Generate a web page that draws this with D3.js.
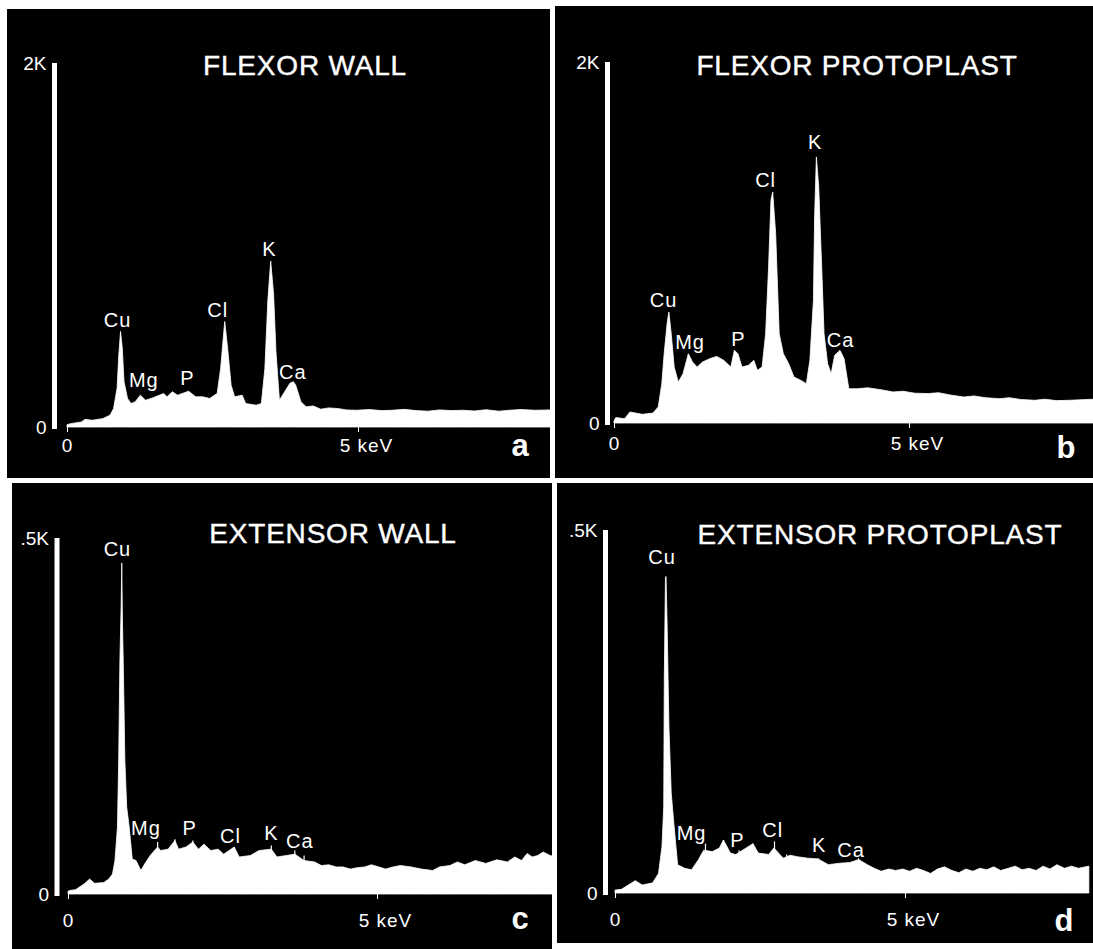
<!DOCTYPE html>
<html>
<head>
<meta charset="utf-8">
<script src="https://cdn.jsdelivr.net/npm/d3@7"></script>
<style>
  body { margin: 0; background: #fff; }
  svg { display: block; }
  text { font-family: "Liberation Sans", Arial, sans-serif; fill: #fff; }
</style>
</head>
<body>
<svg class="spectra" width="1093" height="949"></svg>
<script>
// X-ray spectra: energy in keV, counts
const energyA = [0, 0.06, 0.25, 0.31, 0.43, 0.61, 0.74, 0.80, 0.86, 0.89, 0.92, 0.95, 0.98, 1.04, 1.10, 1.17, 1.26, 1.35, 1.47, 1.66, 1.72, 1.81, 1.90, 2.09, 2.21, 2.33, 2.45, 2.58, 2.64, 2.69, 2.71, 2.76, 2.82, 2.88, 3.01, 3.07, 3.25, 3.34, 3.40, 3.45, 3.50, 3.55, 3.59, 3.65, 3.74, 3.83, 3.89, 3.93, 4.02, 4.11, 4.23, 4.36, 4.5, 4.66, 4.8, 4.97, 5.2, 5.4, 5.58, 5.8, 6.0, 6.2, 6.4, 6.6, 6.81, 7.0, 7.2, 7.42, 7.6, 7.8, 8.04, 8.3, 8.6];
const countsA = [13, 18, 28, 42, 37, 46, 65, 101, 212, 396, 525, 433, 249, 157, 129, 138, 175, 147, 160, 184, 166, 194, 175, 197, 166, 166, 157, 184, 322, 507, 580, 433, 230, 166, 175, 129, 120, 129, 322, 691, 912, 728, 415, 147, 194, 240, 249, 230, 138, 111, 116, 98, 105, 101, 94, 92, 96, 90, 92, 97, 90, 87, 94, 90, 92, 88, 95, 87, 92, 96, 92, 94, 92];

const energyB = [0, 0.03, 0.18, 0.27, 0.48, 0.66, 0.75, 0.81, 0.85, 0.90, 0.93, 0.97, 1.02, 1.09, 1.17, 1.26, 1.33, 1.41, 1.50, 1.62, 1.74, 1.86, 1.98, 2.04, 2.10, 2.17, 2.28, 2.37, 2.43, 2.51, 2.57, 2.62, 2.66, 2.69, 2.74, 2.80, 2.87, 2.96, 3.05, 3.17, 3.26, 3.32, 3.38, 3.40, 3.43, 3.47, 3.52, 3.56, 3.62, 3.68, 3.74, 3.83, 3.90, 3.98, 4.13, 4.3, 4.49, 4.6, 4.73, 4.9, 5.1, 5.33, 5.5, 5.7, 5.93, 6.1, 6.3, 6.53, 6.7, 6.9, 7.13, 7.3, 7.5, 7.73, 8.0, 8.4];
const countsB = [11, 30, 24, 61, 48, 55, 89, 218, 384, 550, 615, 495, 310, 227, 273, 384, 338, 310, 338, 356, 369, 347, 310, 403, 384, 310, 320, 347, 292, 310, 495, 864, 1234, 1280, 1049, 495, 384, 329, 255, 236, 218, 347, 680, 1141, 1474, 1308, 864, 495, 329, 273, 375, 403, 356, 190, 190, 195, 186, 180, 172, 176, 165, 163, 168, 155, 144, 150, 140, 135, 140, 130, 126, 132, 124, 126, 130, 135];

const energyC = [0, 0.03, 0.12, 0.26, 0.35, 0.43, 0.58, 0.66, 0.72, 0.76, 0.80, 0.82, 0.84, 0.86, 0.87, 0.88, 0.90, 0.92, 0.95, 0.99, 1.04, 1.10, 1.18, 1.24, 1.33, 1.45, 1.50, 1.62, 1.73, 1.79, 1.91, 2.02, 2.11, 2.20, 2.31, 2.43, 2.52, 2.69, 2.77, 2.95, 3.09, 3.29, 3.38, 3.53, 3.67, 3.82, 3.99, 4.10, 4.22, 4.34, 4.45, 4.57, 4.68, 4.80, 4.91, 5.03, 5.14, 5.26, 5.38, 5.55, 5.72, 5.90, 6.01, 6.18, 6.30, 6.42, 6.59, 6.76, 6.94, 7.11, 7.23, 7.34, 7.43, 7.51, 7.60, 7.69, 7.80, 7.92];
const countsC = [4, 5, 6, 14, 21, 15, 16, 21, 28, 47, 94, 188, 329, 404, 465, 390, 296, 188, 122, 94, 49, 47, 33, 42, 54, 66, 61, 63, 75, 63, 66, 73, 63, 70, 61, 63, 56, 66, 52, 54, 61, 63, 52, 54, 56, 47, 45, 40, 41, 38, 38, 35, 37, 38, 41, 38, 35, 38, 40, 38, 35, 33, 38, 40, 45, 41, 47, 43, 48, 45, 52, 47, 57, 52, 54, 59, 54, 52];

const energyD = [0, 0.11, 0.29, 0.35, 0.47, 0.65, 0.75, 0.81, 0.84, 0.85, 0.87, 0.88, 0.90, 0.93, 0.97, 1.02, 1.08, 1.20, 1.32, 1.44, 1.53, 1.68, 1.80, 1.87, 1.99, 2.08, 2.20, 2.38, 2.47, 2.65, 2.74, 2.90, 3.02, 3.14, 3.32, 3.50, 3.68, 3.87, 4.05, 4.20, 4.35, 4.47, 4.59, 4.72, 4.84, 4.96, 5.08, 5.20, 5.32, 5.44, 5.56, 5.68, 5.81, 5.93, 6.05, 6.17, 6.29, 6.41, 6.53, 6.65, 6.78, 6.90, 7.02, 7.14, 7.26, 7.38, 7.50, 7.62, 7.75, 7.87, 7.99, 8.17];
const countsD = [4, 5, 14, 17, 11, 14, 27, 64, 119, 297, 434, 436, 365, 228, 137, 91, 39, 34, 32, 46, 59, 57, 62, 73, 55, 53, 59, 68, 55, 53, 62, 48, 52, 50, 48, 47, 39, 41, 42, 46, 39, 34, 30, 33, 31, 33, 30, 34, 31, 27, 33, 36, 31, 28, 33, 30, 34, 32, 36, 31, 34, 37, 32, 34, 31, 37, 33, 39, 34, 37, 34, 37];

// element labels: name, energy and height where the label sits
const elements = ["Cu", "Mg", "P", "Cl", "K", "Ca"];
const labelKevA = [0.87, 1.32, 2.07, 2.59, 3.48, 3.88];
const labelCountA = [590, 258, 267, 645, 977, 304];
const labelKevB = [0.84, 1.29, 2.11, 2.57, 3.41, 3.84];
const labelCountB = [680, 449, 467, 1345, 1557, 458];
const labelKevC = [0.80, 1.26, 1.97, 2.63, 3.29, 3.75];
const labelCountC = [484, 92, 92, 82, 85, 75];
const labelKevD = [0.81, 1.32, 2.11, 2.72, 3.52, 4.07];
const labelCountD = [463, 82, 73, 87, 66, 59];

// thin line markers standing on the spectrum (keV, top count, bottom count)
const markerKevC = [1.45, 1.73, 2.02, 2.69, 3.29, 3.67, 3.82];
const markerTopC = [73, 77, 75, 66, 68, 61, 54];
const markerBottomC = [63, 66, 66, 49, 52, 47, 42];
const markerKevD = [1.56, 1.87, 2.14, 2.38, 2.75, 2.96, 3.50, 4.20];
const markerTopD = [68, 73, 59, 68, 71, 53, 48, 48];
const markerBottomD = [59, 62, 50, 59, 55, 43, 41, 39];

const titles = ["FLEXOR WALL", "FLEXOR PROTOPLAST", "EXTENSOR WALL", "EXTENSOR PROTOPLAST"];
const panelLetters = ["a", "b", "c", "d"];
const fullScale = [2000, 2000, 500, 500];
const fullScaleLabels = ["2K", "2K", ".5K", ".5K"];
const energyTicks = [0, 5];

// panel frames (black boxes) and where 0 / 5 keV and 0 / full scale land
const layout = [
    { x: 7, y: 9, w: 543, h: 469, x0: 67, x5: 358, base: 427, top: 63, barX: 54.5, pad: 13, titleX: 305, titleY: 65, letterX: 520, letterY: 445 },
    { x: 555, y: 6, w: 538, h: 472, x0: 614, x5: 909, base: 423, top: 62, barX: 607.5, pad: 15, titleX: 857, titleY: 65, letterX: 1066, letterY: 447 },
    { x: 12, y: 483, w: 540, h: 466, x0: 68, x5: 377, base: 894, top: 538, barX: 57, pad: 21, titleX: 333, titleY: 533, letterX: 520, letterY: 918 },
    { x: 557, y: 483, w: 536, h: 460, x0: 615, x5: 905, base: 893, top: 530, barX: 605.5, pad: 21, titleX: 880, titleY: 534, letterX: 1064, letterY: 920 }
];

const spectra = [
    { energy: energyA, counts: countsA, labelKev: labelKevA, labelCount: labelCountA, mKev: [], mTop: [], mBottom: [] },
    { energy: energyB, counts: countsB, labelKev: labelKevB, labelCount: labelCountB, mKev: [], mTop: [], mBottom: [] },
    { energy: energyC, counts: countsC, labelKev: labelKevC, labelCount: labelCountC, mKev: markerKevC, mTop: markerTopC, mBottom: markerBottomC },
    { energy: energyD, counts: countsD, labelKev: labelKevD, labelCount: labelCountD, mKev: markerKevD, mTop: markerTopD, mBottom: markerBottomD }
];

const svg = d3.select('svg.spectra');

svg.append('rect')
    .attr('width', 1093)
    .attr('height', 949)
    .attr('fill', '#fff');

spectra.forEach((s, i) => drawPanel(i, s, layout[i]));

function drawPanel(i, s, box) {
    const group = svg.append('g').attr('id', 'panel-' + panelLetters[i]);

    group.append('clipPath')
        .attr('id', 'clip-' + i)
        .append('rect')
        .attr('x', box.x)
        .attr('y', box.y)
        .attr('width', box.w)
        .attr('height', box.h);

    group.append('rect')
        .attr('x', box.x)
        .attr('y', box.y)
        .attr('width', box.w)
        .attr('height', box.h)
        .attr('fill', '#000');

    const x = d3.scaleLinear()
        .domain([0, 5])
        .range([box.x0, box.x5]);

    const y = d3.scaleLinear()
        .domain([0, fullScale[i]])
        .range([box.base, box.top]);

    const points = s.energy.map((e, k) => ({ e: e, c: s.counts[k] }));

    const area = d3.area()
        .x(d => x(d.e))
        .y0(y(0))
        .y1(d => y(d.c));

    group.append('path')
        .datum(points)
        .attr('clip-path', `url(#clip-${i})`)
        .attr('fill', '#fff')
        .attr('stroke', '#fff')
        .attr('stroke-width', 0.8)
        .attr('d', area);

    group.selectAll('line.marker')
        .data(s.mKev)
        .join('line')
        .attr('class', 'marker')
        .attr('x1', d => x(d))
        .attr('x2', d => x(d))
        .attr('y1', (d, k) => y(s.mTop[k]))
        .attr('y2', (d, k) => y(s.mBottom[k]))
        .attr('stroke', '#fff')
        .attr('stroke-width', 1.2);

    // count scale: a thick white bar with 0 and full scale at its ends
    const yAxis = group.append('g')
        .attr('transform', `translate(${box.barX},0)`)
        .call(d3.axisLeft(y)
            .tickValues([0, fullScale[i]])
            .tickSize(0)
            .tickPadding(8)
            .tickFormat(d => d === 0 ? '0' : fullScaleLabels[i]));
    yAxis.select('.domain')
        .attr('stroke', '#fff')
        .attr('stroke-width', 5)
        .attr('d', `M0,${box.top}V${box.base + 2}`);
    yAxis.selectAll('text')
        .attr('fill', '#fff')
        .style('font-size', '19px');

    // energy axis: only the two ticks, no line
    const xAxis = group.append('g')
        .attr('transform', `translate(0,${box.base})`)
        .call(d3.axisBottom(x)
            .tickValues(energyTicks)
            .tickSize(5)
            .tickPadding(box.pad)
            .tickFormat(d => d === 0 ? '0' : '5 keV'));
    xAxis.select('.domain').remove();
    xAxis.selectAll('line').attr('stroke', '#fff');
    xAxis.selectAll('text')
        .attr('fill', '#fff')
        .attr('dy', '0.35em')
        .style('font-size', '19px')
        .style('letter-spacing', '1px');
    xAxis.selectAll('.tick')
        .filter(d => d === 5)
        .select('text')
        .attr('dx', 8);

    group.append('text')
        .attr('x', box.titleX)
        .attr('y', box.titleY)
        .attr('text-anchor', 'middle')
        .attr('dominant-baseline', 'central')
        .style('font-size', '28px')
        .style('letter-spacing', '0.8px')
        .style('stroke', '#fff')
        .style('stroke-width', '0.4px')
        .text(titles[i]);

    group.append('text')
        .attr('x', box.letterX)
        .attr('y', box.letterY)
        .attr('text-anchor', 'middle')
        .attr('dominant-baseline', 'central')
        .style('font-size', '31px')
        .style('font-weight', 'bold')
        .text(panelLetters[i]);

    group.selectAll('text.element')
        .data(elements)
        .join('text')
        .attr('class', 'element')
        .attr('x', (d, k) => x(s.labelKev[k]))
        .attr('y', (d, k) => y(s.labelCount[k]))
        .attr('text-anchor', 'middle')
        .attr('dominant-baseline', 'central')
        .style('font-size', '20px')
        .style('letter-spacing', '1px')
        .text(d => d);
}
</script>
</body>
</html>
